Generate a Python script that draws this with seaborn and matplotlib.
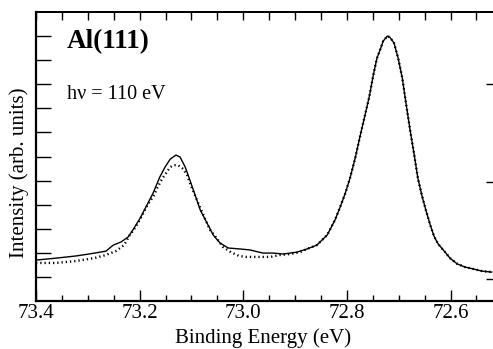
import numpy as np
import pandas as pd
import matplotlib
matplotlib.use("Agg")
import matplotlib.pyplot as plt
import seaborn as sns
from matplotlib.ticker import MultipleLocator

# Solid curve (fit): binding energy (eV) and intensity
fit_energy = [73.400, 73.361, 73.323, 73.298, 73.265, 73.251, 73.236, 73.222, 73.213, 73.199,
              73.186, 73.174, 73.161, 73.151, 73.141, 73.130, 73.122, 73.112, 73.103, 73.093,
              73.083, 73.070, 73.058, 73.045, 73.029, 73.006, 72.987, 72.962, 72.942, 72.923,
              72.896, 72.877, 72.858, 72.838, 72.823, 72.813, 72.803, 72.794, 72.784, 72.775,
              72.765, 72.757, 72.749, 72.742, 72.734, 72.730, 72.722, 72.717, 72.709, 72.701,
              72.693, 72.686, 72.678, 72.670, 72.663, 72.655, 72.647, 72.639, 72.632, 72.624,
              72.614, 72.601, 72.587, 72.572, 72.556, 72.539, 72.520]
fit_intensity = [1.70, 1.78, 1.87, 1.95, 2.07, 2.32, 2.45, 2.66, 2.95, 3.44,
                 3.98, 4.48, 5.15, 5.56, 5.89, 6.06, 5.98, 5.56, 5.02, 4.40,
                 3.78, 3.24, 2.74, 2.41, 2.20, 2.16, 2.12, 1.99, 1.99, 1.95,
                 2.03, 2.16, 2.32, 2.74, 3.36, 3.90, 4.48, 5.10, 5.93, 6.80,
                 7.72, 8.46, 9.38, 10.08, 10.54, 10.79, 11.00, 10.95, 10.71, 10.08,
                 9.25, 8.22, 7.10, 6.06, 5.10, 4.36, 3.73, 3.15, 2.70, 2.37,
                 2.12, 1.78, 1.54, 1.41, 1.33, 1.24, 1.20]

# Dotted curve (measured data)
data_energy = [73.400, 73.361, 73.323, 73.288, 73.265, 73.246, 73.230, 73.219, 73.209, 73.201,
               73.193, 73.184, 73.174, 73.166, 73.157, 73.149, 73.141, 73.134, 73.126, 73.118,
               73.109, 73.103, 73.095, 73.087, 73.072, 73.064, 73.056, 73.039, 73.024, 73.008,
               72.993, 72.968, 72.948, 72.929, 72.910, 72.890,
               72.877, 72.858, 72.838, 72.823, 72.813, 72.803, 72.794, 72.784, 72.775,
               72.765, 72.757, 72.749, 72.742, 72.734, 72.730, 72.722, 72.717, 72.709, 72.701,
               72.693, 72.686, 72.678, 72.670, 72.663, 72.655, 72.647, 72.639, 72.632, 72.624,
               72.614, 72.601, 72.587, 72.572, 72.556, 72.539, 72.520]
data_intensity = [1.58, 1.58, 1.66, 1.78, 1.91, 2.07, 2.32, 2.74, 3.03, 3.32,
                  3.65, 4.02, 4.32, 4.69, 5.06, 5.31, 5.56, 5.64, 5.64, 5.52,
                  5.27, 4.90, 4.48, 4.07, 3.32, 2.95, 2.74, 2.24, 2.03, 1.87,
                  1.83, 1.83, 1.83, 1.91, 1.95, 2.03,
                  2.16, 2.32, 2.74, 3.36, 3.90, 4.48, 5.10, 5.93, 6.80,
                  7.72, 8.46, 9.38, 10.08, 10.54, 10.79, 11.00, 10.95, 10.71, 10.08,
                  9.25, 8.22, 7.10, 6.06, 5.10, 4.36, 3.73, 3.15, 2.70, 2.37,
                  2.12, 1.78, 1.54, 1.41, 1.33, 1.24, 1.20]

x_ticks = [73.4, 73.2, 73.0, 72.8, 72.6]
x_ticklabels = ["73.4", "73.2", "73.0", "72.8", "72.6"]
y_ticks = [1, 2, 3, 4, 5, 6, 7, 8, 9, 10, 11]
right_ticks = [0.9, 4.95, 9.0]

sns.set_style("ticks")
plt.rcParams["font.family"] = ["Liberation Serif", "DejaVu Serif"]
for k in ["text.color", "axes.labelcolor", "xtick.color", "ytick.color", "axes.edgecolor"]:
    plt.rcParams[k] = "black"

fit_df = pd.DataFrame({"energy": fit_energy, "intensity": fit_intensity})
data_df = pd.DataFrame({"energy": data_energy, "intensity": data_intensity})

fig = plt.figure(figsize=(4.93, 3.49), dpi=100)
ax = fig.add_axes([36 / 493, 48 / 349, 457 / 493, 289 / 349])

sns.lineplot(data=fit_df, x="energy", y="intensity", ax=ax, color="black",
             linewidth=1.0, sort=False)
sns.lineplot(data=data_df, x="energy", y="intensity", ax=ax, color="black",
             linewidth=1.7, linestyle=(0, (0.55, 1.25)), sort=False,
             dash_capstyle="butt")

ax.set_xlim(73.4, 72.518)
ax.set_ylim(0, 12)

ax.set_xticks(x_ticks)
ax.set_xticklabels(x_ticklabels, fontsize=15)
ax.xaxis.set_minor_locator(MultipleLocator(0.05))
ax.set_yticks(y_ticks)
ax.set_yticklabels([])
ax.tick_params(axis="x", which="major", direction="in", length=8, width=1.0,
               pad=2, top=False)
ax.tick_params(axis="x", which="minor", direction="in", length=4, width=1.0,
               top=False)
ax.tick_params(axis="y", which="major", direction="in", length=11, width=1.0,
               right=False)

secx = ax.secondary_xaxis("top")
secx.set_xticks(np.arange(73.4, 72.5, -0.05))
secx.set_xticklabels([])
secx.tick_params(direction="in", length=6, width=1.0)

secy = ax.secondary_yaxis("right")
secy.set_yticks(right_ticks)
secy.set_yticklabels([])
secy.tick_params(direction="in", length=5, width=1.0)
secy.spines["right"].set_visible(False)

for s in ["left", "bottom"]:
    ax.spines[s].set_linewidth(1.6)
ax.spines["top"].set_linewidth(1.4)
ax.spines["right"].set_visible(False)
secx.spines["top"].set_linewidth(1.4)

ax.set_xlabel("Binding Energy (eV)", fontsize=15)
ax.set_ylabel("Intensity (arb. units)", fontsize=15)
ax.xaxis.set_label_coords(0.497, -0.093)
ax.yaxis.set_label_coords(-0.015, 0.443)

ax.text(0.068, 0.896, "Al(111)", transform=ax.transAxes,
        fontsize=19.5, fontweight="bold", va="center", ha="left")
ax.text(0.068, 0.713, "h\u03bd = 110 eV", transform=ax.transAxes,
        fontsize=14.5, va="center", ha="left")

fig.savefig("out.png", dpi=100)
